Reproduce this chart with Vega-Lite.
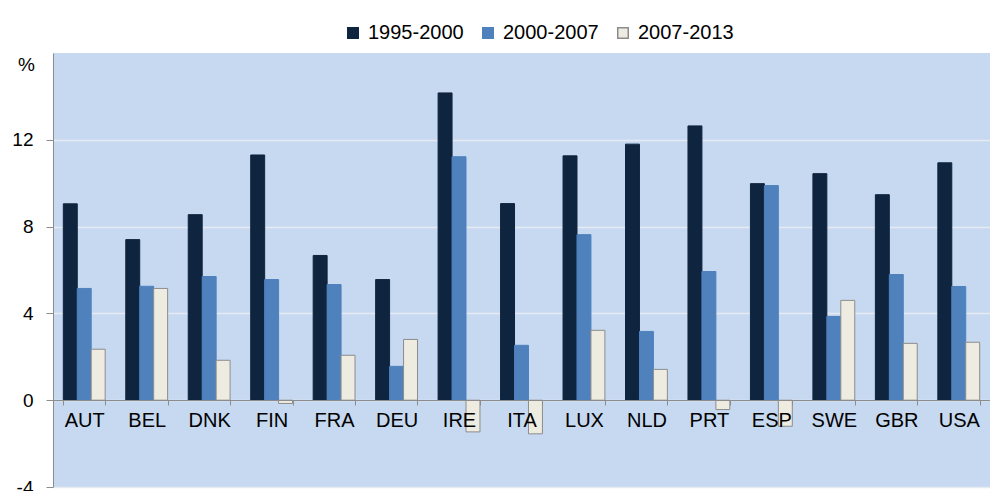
{
  "$schema": "https://vega.github.io/schema/vega-lite/v6.json",
  "width": 937,
  "height": 434,
  "autosize": {"type": "none"},
  "padding": {"left": 53, "top": 53, "right": 0, "bottom": 4},
  "background": "white",
  "config": {
    "view": {"fill": "#C6D9F1", "stroke": null},
    "font": "Liberation Sans"
  },
  "data": {
    "values": [
      {"country": "AUT", "period": "1995-2000", "value": 9.05},
      {"country": "AUT", "period": "2000-2007", "value": 5.15},
      {"country": "AUT", "period": "2007-2013", "value": 2.35},
      {"country": "BEL", "period": "1995-2000", "value": 7.4},
      {"country": "BEL", "period": "2000-2007", "value": 5.25},
      {"country": "BEL", "period": "2007-2013", "value": 5.15},
      {"country": "DNK", "period": "1995-2000", "value": 8.55},
      {"country": "DNK", "period": "2000-2007", "value": 5.7},
      {"country": "DNK", "period": "2007-2013", "value": 1.84},
      {"country": "FIN", "period": "1995-2000", "value": 11.3},
      {"country": "FIN", "period": "2000-2007", "value": 5.56},
      {"country": "FIN", "period": "2007-2013", "value": -0.15},
      {"country": "FRA", "period": "1995-2000", "value": 6.67},
      {"country": "FRA", "period": "2000-2007", "value": 5.33},
      {"country": "FRA", "period": "2007-2013", "value": 2.07},
      {"country": "DEU", "period": "1995-2000", "value": 5.56},
      {"country": "DEU", "period": "2000-2007", "value": 1.56},
      {"country": "DEU", "period": "2007-2013", "value": 2.8},
      {"country": "IRE", "period": "1995-2000", "value": 14.16},
      {"country": "IRE", "period": "2000-2007", "value": 11.22},
      {"country": "IRE", "period": "2007-2013", "value": -1.46},
      {"country": "ITA", "period": "1995-2000", "value": 9.06},
      {"country": "ITA", "period": "2000-2007", "value": 2.53},
      {"country": "ITA", "period": "2007-2013", "value": -1.55},
      {"country": "LUX", "period": "1995-2000", "value": 11.26},
      {"country": "LUX", "period": "2000-2007", "value": 7.63},
      {"country": "LUX", "period": "2007-2013", "value": 3.22},
      {"country": "NLD", "period": "1995-2000", "value": 11.8},
      {"country": "NLD", "period": "2000-2007", "value": 3.17},
      {"country": "NLD", "period": "2007-2013", "value": 1.42},
      {"country": "PRT", "period": "1995-2000", "value": 12.64},
      {"country": "PRT", "period": "2000-2007", "value": 5.93},
      {"country": "PRT", "period": "2007-2013", "value": -0.43},
      {"country": "ESP", "period": "1995-2000", "value": 9.98},
      {"country": "ESP", "period": "2000-2007", "value": 9.89},
      {"country": "ESP", "period": "2007-2013", "value": -1.2},
      {"country": "SWE", "period": "1995-2000", "value": 10.44},
      {"country": "SWE", "period": "2000-2007", "value": 3.86},
      {"country": "SWE", "period": "2007-2013", "value": 4.6},
      {"country": "GBR", "period": "1995-2000", "value": 9.47},
      {"country": "GBR", "period": "2000-2007", "value": 5.79},
      {"country": "GBR", "period": "2007-2013", "value": 2.62},
      {"country": "USA", "period": "1995-2000", "value": 10.94},
      {"country": "USA", "period": "2000-2007", "value": 5.24},
      {"country": "USA", "period": "2007-2013", "value": 2.67}
    ]
  },
  "mark": {"type": "bar", "strokeWidth": 1},
  "encoding": {
    "x": {
      "field": "country",
      "type": "nominal",
      "sort": null,
      "scale": {"paddingInner": 0.33, "paddingOuter": 0.165},
      "axis": {
        "title": null,
        "labelAngle": 0,
        "offset": -87,
        "zindex": 1,
        "tickBand": "extent",
        "tickSize": 5,
        "tickColor": "#8C8C8C",
        "domainColor": "#8C8C8C",
        "labelFontSize": 20,
        "labelColor": "#000000",
        "labelPadding": 5
      }
    },
    "xOffset": {
      "field": "period",
      "type": "nominal",
      "sort": ["1995-2000", "2000-2007", "2007-2013"]
    },
    "y": {
      "field": "value",
      "type": "quantitative",
      "scale": {"domain": [-4, 16], "nice": false},
      "axis": {
        "values": [-4, 0, 4, 8, 12],
        "labelExpr": "datum.value < 0 ? '-' + abs(datum.value) : '' + datum.value",
        "title": "%",
        "titleAngle": 0,
        "titleX": -27,
        "titleY": 11,
        "titleAlign": "center",
        "titleBaseline": "middle",
        "titleFontSize": 19,
        "titleFontWeight": "normal",
        "titleColor": "#000000",
        "grid": true,
        "gridColor": "#E6EBF2",
        "gridWidth": 1.5,
        "domainColor": "#8C8C8C",
        "tickColor": "#8C8C8C",
        "tickSize": 7,
        "labelFontSize": 19,
        "labelColor": "#000000",
        "labelPadding": 13
      }
    },
    "color": {
      "field": "period",
      "type": "nominal",
      "sort": ["1995-2000", "2000-2007", "2007-2013"],
      "scale": {
        "domain": ["1995-2000", "2000-2007", "2007-2013"],
        "range": ["#0F243E", "#4F81BD", "#EEECE1"]
      },
      "legend": {
        "title": null,
        "orient": "none",
        "direction": "horizontal",
        "legendX": 290,
        "legendY": -30,
        "symbolType": "square",
        "symbolSize": 110,
        "symbolOpacity": 1,
        "labelFontSize": 20,
        "labelColor": "#000000",
        "labelOffset": 5,
        "columnPadding": 14
      }
    },
    "stroke": {
      "field": "period",
      "type": "nominal",
      "sort": ["1995-2000", "2000-2007", "2007-2013"],
      "scale": {
        "domain": ["1995-2000", "2000-2007", "2007-2013"],
        "range": ["#0F243E", "#4F81BD", "#8C8C8C"]
      },
      "legend": {
        "title": null,
        "orient": "none",
        "direction": "horizontal",
        "legendX": 290,
        "legendY": -30,
        "symbolType": "square",
        "symbolSize": 110,
        "labelFontSize": 20,
        "labelColor": "#000000",
        "labelOffset": 5,
        "columnPadding": 14
      }
    }
  }
}
